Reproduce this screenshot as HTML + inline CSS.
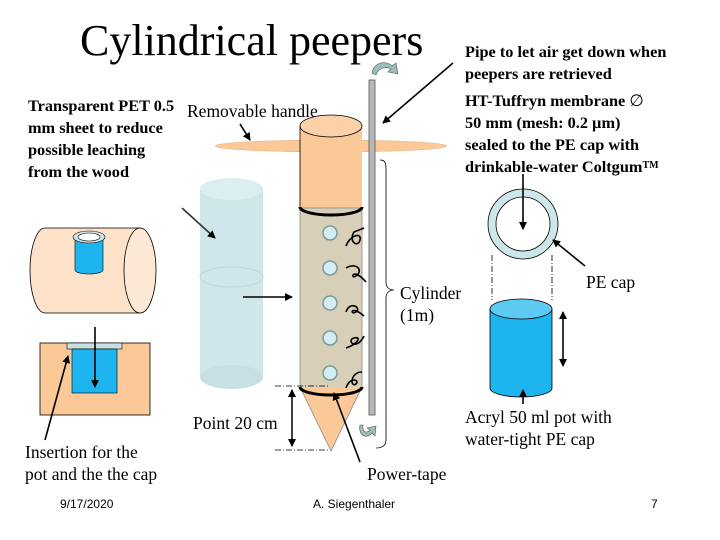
<!DOCTYPE html>
<html><head><meta charset="utf-8"><style>
body{margin:0;background:#fff}
svg{display:block}
text{font-family:"Liberation Serif",serif;fill:#000}
</style></head><body>
<svg width="720" height="540" viewBox="0 0 720 540" xmlns="http://www.w3.org/2000/svg">
<defs>
<marker id="a" markerWidth="8" markerHeight="8" refX="7" refY="4" orient="auto" markerUnits="userSpaceOnUse"><path d="M0,0L8,4L0,8z" fill="#000"/></marker>
<marker id="a2" markerWidth="8" markerHeight="8" refX="1" refY="4" orient="auto" markerUnits="userSpaceOnUse"><path d="M8,0L0,4L8,8z" fill="#000"/></marker>
</defs>
<text x="80" y="55" font-size="44">Cylindrical peepers</text>
<rect x="200" y="189" width="63" height="188" fill="#cfe6ea"/>
<ellipse cx="231.5" cy="189" rx="31.5" ry="11" fill="#dbeef1"/>
<ellipse cx="231.5" cy="377" rx="31.5" ry="12" fill="#c7e0e4"/>
<ellipse cx="231.5" cy="277" rx="31.5" ry="10" fill="none" stroke="#bcd8dc"/>
<ellipse cx="331" cy="146" rx="116" ry="6" fill="#fbc898" stroke="#e8b080" stroke-width="0.5"/>
<rect x="300" y="126" width="62" height="82" fill="#fbc898"/>
<ellipse cx="331" cy="126" rx="31" ry="11" fill="#fcd0a8" stroke="#000" stroke-width="0.8"/>
<path d="M300,126 V208" stroke="#000" stroke-width="0.8"/>
<path d="M300,208 H362 V386 A31,8 0 0 1 300,386 Z" fill="#d8cfb8" stroke="#888" stroke-width="0.8"/>
<path d="M300,207 A31,8 0 0 0 362,207" fill="none" stroke="#000" stroke-width="3"/>
<path d="M300,387 L331,451 L362,387" fill="#fbc898" stroke="#888" stroke-width="0.8"/>
<path d="M300,387 A31,8 0 0 0 362,387" fill="none" stroke="#000" stroke-width="3"/>
<g fill="#d4ecf4" stroke="#7a9a9a" stroke-width="1.5">
<circle cx="330" cy="233" r="7"/><circle cx="330" cy="268" r="7"/><circle cx="330" cy="303" r="7"/><circle cx="330" cy="338" r="7"/><circle cx="330" cy="373" r="7"/>
</g>
<g fill="none" stroke="#000" stroke-width="1.6">
<path d="M346,246 C350,235 362,232 360,240 C358,248 348,242 354,232 L364,228"/>
<path d="M346,268 C356,262 364,270 356,276 C350,280 352,266 366,282"/>
<path d="M346,312 C350,300 362,308 356,312 C350,316 350,304 364,316"/>
<path d="M346,348 C358,344 362,336 354,338 C346,340 356,352 364,336"/>
<path d="M346,388 C350,376 360,380 356,384 C350,388 350,372 362,372"/>
</g>
<rect x="369" y="80" width="6" height="335" fill="#b8b8b8" stroke="#555" stroke-width="0.8"/>
<path d="M372,73 C374,62 386,60 392,66 L396,63 L398,74 L388,72 L391,69 C386,66 378,68 376,75 Z" fill="#9fbcbc" stroke="#555" stroke-width="0.6"/>
<path d="M360,425 C358,435 366,440 372,433 L375,436 L376,426 L367,428 L370,430 C366,434 362,432 363,425 Z" fill="#9fbcbc" stroke="#555" stroke-width="0.6"/>
<path d="M380,160 C386,160 386,164 386,170 V282 C386,288 390,290 394,290 C390,290 386,292 386,298 V440 C386,446 382,448 376,448" fill="none" stroke="#000" stroke-width="0.8"/>
<path d="M275,386 H330 M275,450 H330" stroke="#000" stroke-dasharray="6,2,1,2" stroke-width="0.8"/>
<line x1="292" y1="390" x2="292" y2="446" stroke="#000" stroke-width="1.5" marker-start="url(#a2)" marker-end="url(#a)"/>
<g stroke="#000" stroke-width="1.6" fill="none">
<line x1="453" y1="63" x2="383" y2="123" marker-end="url(#a)"/>
<line x1="243" y1="297" x2="292" y2="297" marker-end="url(#a)"/>
<line x1="182" y1="208" x2="215" y2="238" marker-end="url(#a)" stroke="#333"/>
<line x1="240" y1="124" x2="250" y2="140" marker-end="url(#a)"/>
<line x1="360" y1="462" x2="334" y2="393" marker-end="url(#a)"/>
</g>
<path d="M45,228 H140 V313 H45 A15,42.5 0 0 1 45,228 Z" fill="#fde1c8" stroke="#000" stroke-width="0.8"/>
<ellipse cx="140" cy="270.5" rx="16" ry="42.5" fill="#fde8d6" stroke="#000" stroke-width="0.8"/>
<path d="M75,236 V270 A14,4 0 0 0 103,270 V236 Z" fill="#1eb4f0" stroke="#000" stroke-width="0.6"/>
<ellipse cx="89" cy="237" rx="16" ry="6" fill="#cfe6ea" stroke="#000" stroke-width="0.6"/>
<ellipse cx="89" cy="237" rx="11" ry="4" fill="#fff" stroke="#000" stroke-width="0.6"/>
<rect x="40" y="343" width="110" height="72" fill="#fbc898" stroke="#000" stroke-width="0.8"/>
<rect x="67" y="343" width="55" height="6" fill="#c8e0e4" stroke="#000" stroke-width="0.6"/>
<rect x="72" y="349" width="45" height="44" fill="#1eb4f0" stroke="#000" stroke-width="0.6"/>
<line x1="95" y1="327" x2="95" y2="387" stroke="#000" stroke-width="1.6" marker-end="url(#a)"/>
<line x1="45" y1="440" x2="68" y2="356" stroke="#000" stroke-width="1.6" marker-end="url(#a)"/>
<circle cx="523" cy="224" r="31" fill="none" stroke="#cde6ea" stroke-width="8"/>
<circle cx="523" cy="224" r="35" fill="none" stroke="#000" stroke-width="0.8"/>
<circle cx="523" cy="224" r="27" fill="#fff" stroke="#000" stroke-width="0.8"/>
<path d="M492,255 V300 M552,255 V300" stroke="#000" stroke-dasharray="6,2,1,2" stroke-width="0.8"/>
<path d="M490,309 V388 A31,9 0 0 0 552,388 V309 Z" fill="#1eb4f0" stroke="#000" stroke-width="0.8"/>
<ellipse cx="521" cy="309" rx="31" ry="10" fill="#5ccaf2" stroke="#000" stroke-width="0.8"/>
<g stroke="#000" stroke-width="1.6">
<line x1="523" y1="174" x2="523" y2="229" marker-end="url(#a)"/>
<line x1="585" y1="266" x2="553" y2="240" marker-end="url(#a)"/>
<line x1="563" y1="312" x2="563" y2="366" marker-start="url(#a2)" marker-end="url(#a)"/>
<line x1="523" y1="404" x2="523" y2="390" marker-end="url(#a)"/>
</g>
<g font-size="16.3" font-weight="bold">
<text x="465" y="57">Pipe to let air get down when</text>
<text x="465" y="79">peepers are retrieved</text>
<text x="465" y="106">HT-Tuffryn membrane <tspan font-weight="normal">∅</tspan></text>
<text x="465" y="128">50 mm (mesh: 0.2 µm)</text>
<text x="465" y="150">sealed to the PE cap with</text>
<text x="465" y="172">drinkable-water Coltgum<tspan font-size="10" dy="-4">TM</tspan></text>
<text x="28" y="111">Transparent PET 0.5</text>
<text x="28" y="133">mm sheet to reduce</text>
<text x="28" y="155">possible leaching</text>
<text x="28" y="177">from the wood</text>
</g>
<g font-size="17.5">
<text x="187" y="117">Removable handle</text>
<text x="400" y="299">Cylinder</text>
<text x="400" y="321">(1m)</text>
<text x="586" y="288">PE cap</text>
<text x="193" y="429">Point 20 cm</text>
<text x="465" y="423">Acryl 50 ml pot with</text>
<text x="465" y="445">water-tight PE cap</text>
<text x="25" y="458">Insertion for the</text>
<text x="25" y="480">pot and the the cap</text>
<text x="367" y="480">Power-tape</text>
</g>
<g font-size="12">
<text x="60" y="508" style="font-family:'Liberation Sans',sans-serif">9/17/2020</text>
<text x="313" y="508" style="font-family:'Liberation Sans',sans-serif">A. Siegenthaler</text>
<text x="651" y="508" style="font-family:'Liberation Sans',sans-serif">7</text>
</g>
</svg>
</body></html>
